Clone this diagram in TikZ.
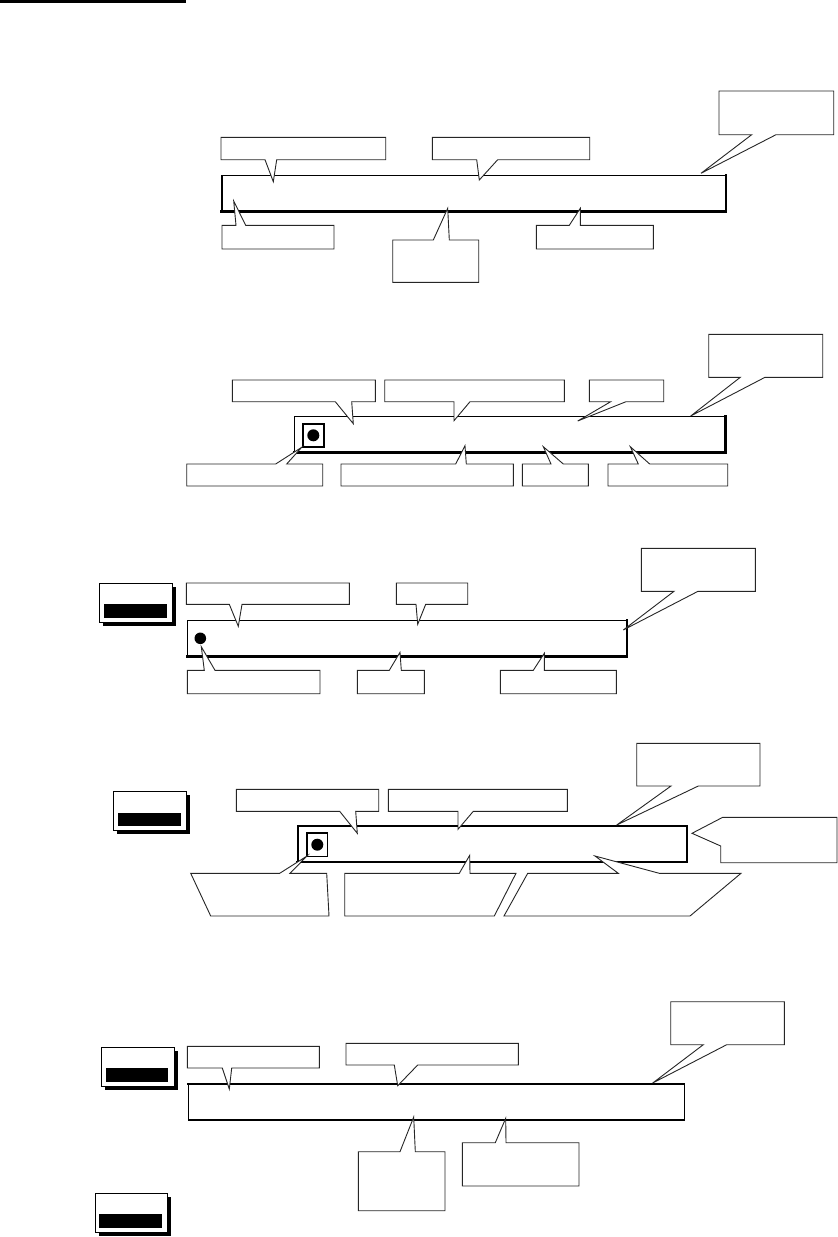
\documentclass[tikz,border=0pt]{standalone}
\begin{document}
\begin{tikzpicture}[x=1pt,y=-1pt,
  co/.style={draw=black!85,line width=0.9pt,fill=white,line join=miter},
  dotmark/.style={fill=black}]
\useasboundingbox (0,0) rectangle (838,1237);

% callout with pointer on its bottom edge: x1,y1,x2,y2,b1,b2,tip
\newcommand\calloutdn[7]{\draw[co] (#1,#2) -- (#3,#2) -- (#3,#4) -- (#6,#4) -- (#7) -- (#5,#4) -- (#1,#4) -- cycle;}
% callout with pointer on its top edge
\newcommand\calloutup[7]{\draw[co] (#1,#2) -- (#5,#2) -- (#7) -- (#6,#2) -- (#3,#2) -- (#3,#4) -- (#1,#4) -- cycle;}
% framed box: x1,y1,x2,y2, top, right, bottom, left widths
\newcommand\framebx[8]{%
  \draw[line width=#5pt,line cap=rect] (#1,#2) -- (#3,#2);
  \draw[line width=#6pt,line cap=rect] (#3,#2) -- (#3,#4);
  \draw[line width=#7pt,line cap=rect] (#3,#4) -- (#1,#4);
  \draw[line width=#8pt,line cap=rect] (#1,#4) -- (#1,#2);}
% button icon: x1,y1,x2,y2, bar x1,y1,x2,y2
\newcommand\btnicon[8]{%
  \fill[black] ({#1+3.5},{#2+4}) rectangle ({#3+3.5},{#4+4});
  \draw[fill=white,line width=1pt] (#1,#2) rectangle (#3,#4);
  \fill[black] (#5,#6) rectangle (#7,#8);}

% top rule
\draw[line width=2.7pt] (0,1.3) -- (186,1.3);

% ---------------- Section 1
\framebx{221.7}{175.7}{726}{211.7}{1}{2.5}{2.5}{2.3}
\calloutdn{221}{137.3}{385.7}{159.7}{265}{276.7}{273.3,181.7}
\calloutdn{432.3}{137.3}{589.7}{159.7}{476.7}{497.7}{479.3,180}
\calloutdn{719}{91}{833.7}{134.7}{751.7}{776}{701,173.3}
\calloutup{222}{225.3}{334}{249}{236}{245.7}{233.7,201}
\calloutup{392.7}{240}{478.7}{282.3}{433.3}{449.3}{447.7,208.3}
\calloutup{536.3}{225.3}{653.3}{249}{569.3}{580.3}{580.3,208.3}

% ---------------- Section 2
\framebx{294.3}{416.7}{725.7}{452.7}{1}{2.5}{2.5}{1}
\draw[line width=2pt,fill=white] (302.7,423.7) rectangle (324.3,447.3);
\fill[dotmark] (313.3,435.3) circle (6);
\calloutdn{232.3}{380}{375.3}{401.7}{335.3}{351.7}{353.3,423.7}
\calloutdn{384.7}{380}{564.3}{401.7}{454}{470}{454,420.7}
\calloutdn{589.3}{380}{663.7}{401.7}{610.7}{626}{577.7,421}
\calloutdn{708.7}{334.3}{822.7}{377.3}{740.3}{765}{690.7,416}
\calloutup{186.7}{464}{322.7}{486}{275.7}{286.7}{301.7,447.3}
\calloutup{341}{464}{513.3}{486}{455.7}{466.3}{465,445.7}
\calloutup{522.3}{464}{588.3}{486}{551}{563.3}{543.3,446.7}
\calloutup{608}{464}{727.7}{486}{638.3}{649.7}{630.3,446.7}

% ---------------- Section 3
\btnicon{99.3}{583.3}{172.7}{622}{104}{604}{167}{617.7}
\framebx{187.3}{620.3}{627}{656.7}{1}{2.5}{2.5}{1}
\fill[dotmark] (200.3,638.3) circle (5.8);
\calloutdn{186.3}{583}{349.3}{604.3}{229.3}{242}{238.3,626.3}
\calloutdn{396.3}{583}{467.7}{604.3}{416}{425.7}{417.7,624.3}
\calloutdn{641.3}{548.3}{755.3}{591.3}{674}{698}{623.3,630}
\calloutup{187.3}{670.3}{320}{693.7}{204.3}{215}{201.3,646.7}
\calloutup{357.3}{670.3}{424.3}{693.7}{389.3}{401.3}{400,652.3}
\calloutup{500.3}{670.3}{616.3}{693.7}{533.3}{544.3}{544.3,653.3}

% ---------------- Section 4
\btnicon{113.3}{791.3}{186.7}{830}{118.3}{813}{181}{825.7}
\framebx{297.7}{826}{687}{862}{2.3}{2.5}{2.5}{2.3}
\draw[line width=1.6pt,fill=white] (306.7,832.7) rectangle (327.3,856.3);
\fill[dotmark] (317.3,844.7) circle (6);
\calloutdn{236.3}{789.3}{378.7}{811.3}{339.7}{355.7}{357.3,833.3}
\calloutdn{388.3}{789.3}{567.3}{811.3}{458}{473.3}{458,829.3}
\calloutdn{636.7}{743.3}{760}{786}{671}{698.3}{616.7,825}
\draw[co] (722.7,817.3) -- (837,817.3) -- (837,862.7) -- (720.7,862.7) -- (720.7,846) -- (692,833.3) -- cycle;
\draw[co] (190.7,873.3) -- (279.7,873.3) -- (307,856) -- (290,873.3) -- (326.7,873.3) -- (329,916) -- (210.7,916) -- cycle;
\draw[co] (344.7,873.3) -- (459.3,873.3) -- (469.7,855.3) -- (470,873.3) -- (516,873.3) -- (494.3,916) -- (344.7,916) -- cycle;
\draw[co] (527.7,873.3) -- (618.3,873.3) -- (595,856) -- (659.3,873.3) -- (741,873.3) -- (690,916) -- (504,916) -- cycle;

% ---------------- Section 5
\btnicon{101.3}{1047.3}{174.7}{1086.3}{106}{1068.3}{167.7}{1081.7}
\btnicon{95.3}{1193.3}{167.7}{1232}{99}{1214}{162}{1227.7}
\framebx{188.3}{1083.7}{684.3}{1120}{2.3}{1.2}{1.2}{1.2}
\calloutdn{187.3}{1046.3}{319.3}{1068}{222.3}{231.7}{229.3,1089}
\calloutdn{346}{1043.3}{518.3}{1065}{394.3}{417.7}{397.7,1085.7}
\calloutdn{670.7}{1001.7}{784.3}{1044.7}{703.3}{726.7}{652.7,1083}
\calloutup{358.3}{1151.7}{445}{1210.7}{400}{415.3}{413.7,1117}
\calloutup{462.3}{1142.7}{579}{1186}{495.3}{506}{505.7,1118.3}
\end{tikzpicture}
\end{document}
